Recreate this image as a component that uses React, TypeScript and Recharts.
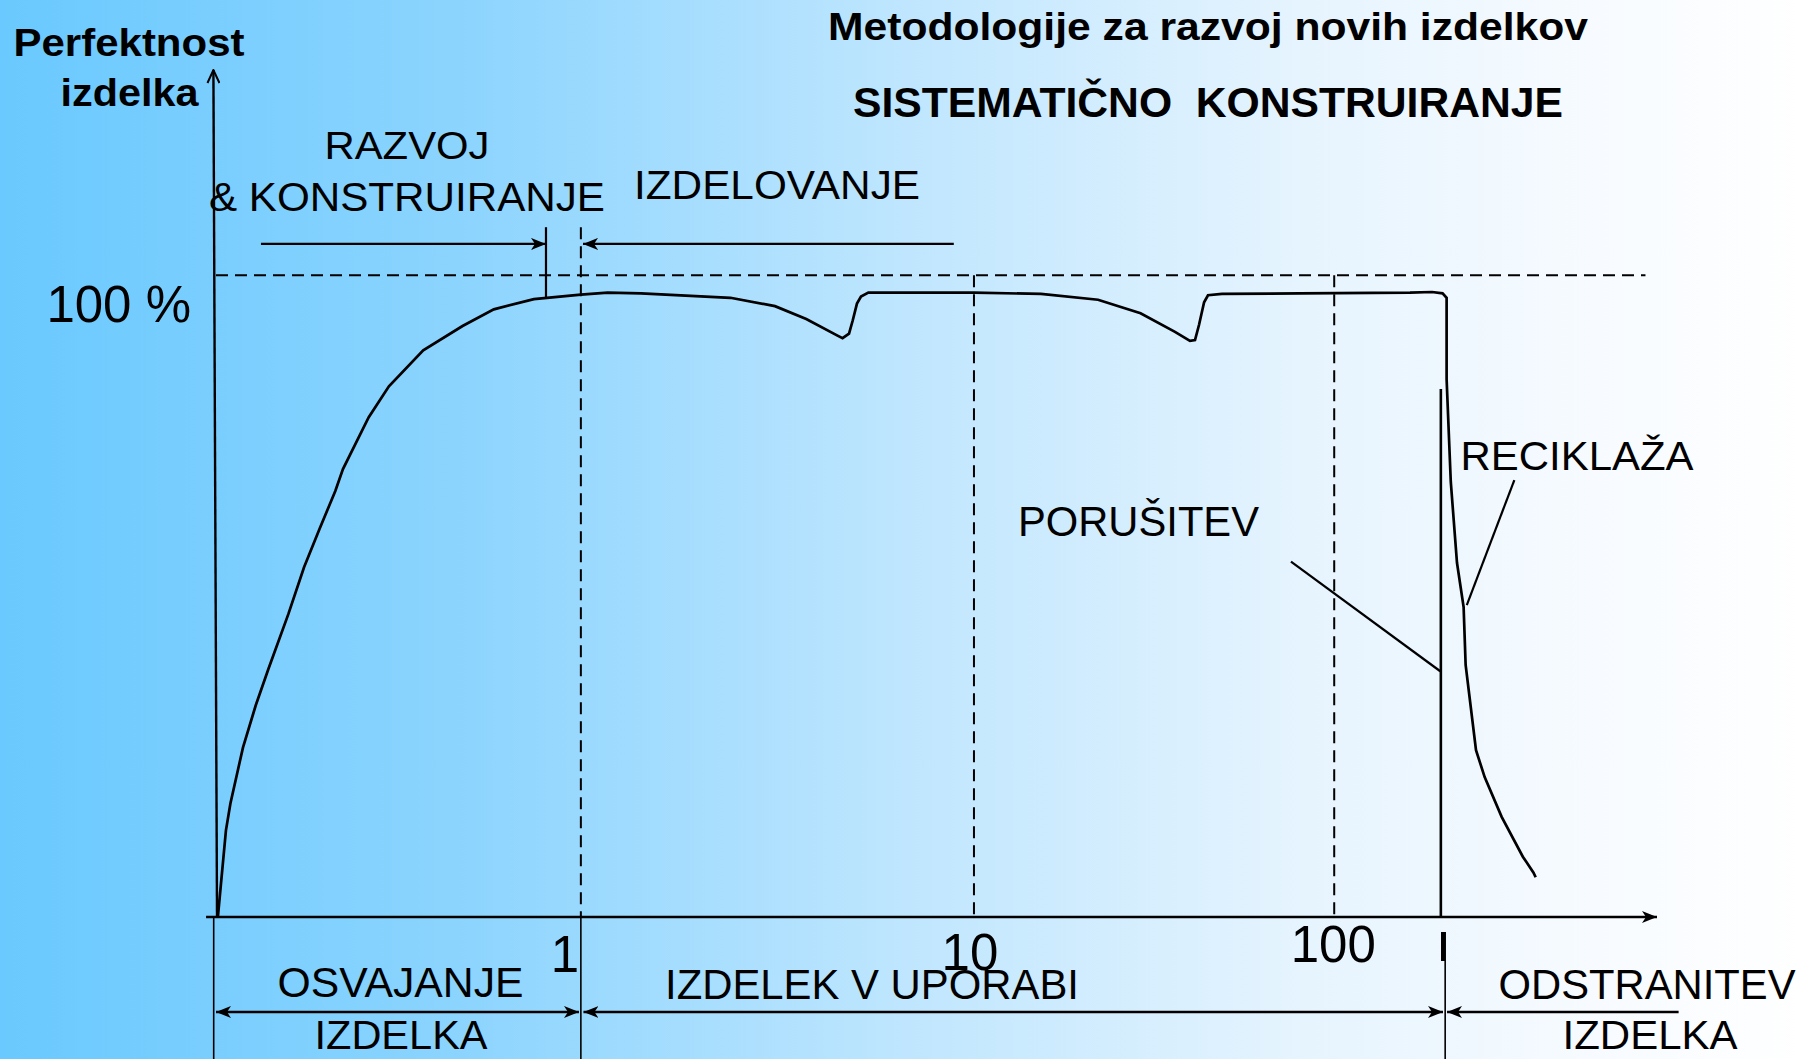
import React from "react";
import { LineChart, Line, XAxis, YAxis, ReferenceLine } from "recharts";

const FONT = '"Liberation Sans", Arial, Helvetica, sans-serif';

// product life, horizontal position in arbitrary "time" units (0..100 along the axis)
const lifeTime = [
  0.13, 0.69, 1.0, 1.87, 2.76, 3.63, 5.02, 6.11, 7.19, 8.28, 8.81, 9.98, 10.6, 12.0,
  14.38, 17.11, 19.28, 22.06, 25.32, 27.18, 29.49, 35.7, 38.79, 40.96, 43.13, 43.48,
  43.93, 44.19, 44.48, 44.76, 45.27, 52.6, 57.25, 61.21, 64.16, 66.55, 67.59, 67.94,
  68.22, 68.57, 68.84, 69.81, 75.23, 82.86, 84.39, 85.12, 85.4, 85.4, 85.69, 86.12,
  86.58, 86.72, 87.44, 88.04, 89.22, 90.69, 91.43, 91.58,
];
// perfektnost izdelka in %
const perfection = [
  0, 13.5, 17.7, 26.4, 33.0, 38.6, 47.2, 54.5, 60.5, 66.4, 69.8, 75.1, 77.9, 82.7,
  88.3, 92.1, 94.7, 96.3, 97.0, 97.3, 97.2, 96.5, 95.2, 93.2, 90.6, 90.2,
  90.9, 93.0, 95.6, 96.7, 97.3, 97.3, 97.1, 96.2, 94.1, 91.2, 89.8, 89.9,
  92.3, 95.8, 96.9, 97.1, 97.2, 97.3, 97.4, 97.2, 96.5, 83.8, 67.8, 55.2,
  48.3, 39.3, 26.0, 21.8, 15.6, 9.4, 6.9, 6.2,
];

const tickValues = [25.32, 52.6, 77.6];
const tickLabels = ["1", "10", "100"];
const levelTicks = [100];

const Y_MAX = 132;
const BELOW = -22.13;
const FAILURE = 85.0;
const BOUNDARY = 85.3;
const HEAD_ROW = 104.9;
const FOOT_ROW = -14.8;

// guide segments in chart units
const hundredLine = [{ x: 0, y: 100 }, { x: 99.2, y: 100 }];
const dashedPhases = [
  [{ x: 25.32, y: 107.5 }, { x: 25.32, y: 0 }],
  [{ x: 52.6, y: 100 }, { x: 52.6, y: 0 }],
  [{ x: 77.6, y: 100 }, { x: 77.6, y: 0 }],
];
const xAxisLine = [{ x: -0.69, y: 0 }, { x: 100, y: 0 }];
const yAxisLine = [{ x: 0.07, y: 0 }, { x: -0.18, y: Y_MAX }];
const belowLines = [
  [{ x: -0.16, y: 0 }, { x: -0.16, y: BELOW }],
  [{ x: 25.32, y: 0 }, { x: 25.32, y: BELOW }],
  [{ x: BOUNDARY, y: -2.34 }, { x: BOUNDARY, y: BELOW }],
];
const failureLine = [{ x: FAILURE, y: 82.3 }, { x: FAILURE, y: 0 }];
const failureTick = [{ x: 85.15, y: -2.34 }, { x: 85.15, y: -6.86 }];
const designEnd = [{ x: 22.9, y: 107.5 }, { x: 22.9, y: 96.5 }];
const designArrow = [{ x: 3.12, y: HEAD_ROW }, { x: 22.9, y: HEAD_ROW }];
const makingArrow = [{ x: 51.2, y: HEAD_ROW }, { x: 25.47, y: HEAD_ROW }];
const footBoth = [
  [{ x: 0, y: FOOT_ROW }, { x: 25.19, y: FOOT_ROW }],
  [{ x: 25.5, y: FOOT_ROW }, { x: 85.15, y: FOOT_ROW }],
];
const disposalArrow = [{ x: 101.5, y: FOOT_ROW }, { x: 85.43, y: FOOT_ROW }];
const failurePointer = [{ x: 74.6, y: 55.4 }, { x: 84.96, y: 38.3 }];
const recyclePointer = [{ x: 90.1, y: 68.1 }, { x: 86.8, y: 48.6 }];

const data = lifeTime.map((t, i) => ({ t, p: perfection[i] }));

const seg = (
  points: { x: number; y: number }[],
  width: number,
  opts: { dash?: string; start?: string; end?: string; key?: string } = {}
) => (
  <ReferenceLine
    key={opts.key}
    segment={points}
    ifOverflow="visible"
    shape={(p: any) => (
      <line
        x1={p.x1}
        y1={p.y1}
        x2={p.x2}
        y2={p.y2}
        stroke="#000"
        strokeWidth={width}
        strokeDasharray={opts.dash}
        markerStart={opts.start ? `url(#${opts.start})` : undefined}
        markerEnd={opts.end ? `url(#${opts.end})` : undefined}
      />
    )}
  />
);

const PhaseTick = (props: any) => {
  const { x, y, payload } = props;
  const i = tickValues.indexOf(payload.value);
  const nudge = [
    [-16, 55],
    [-4, 53],
    [-1, 45],
  ][i] || [0, 50];
  return (
    <text x={x + nudge[0]} y={y + nudge[1]} textAnchor="middle" fontSize={51} fontFamily={FONT} fill="#000">
      {tickLabels[i]}
    </text>
  );
};

const LevelTick = (props: any) => {
  const { x, y, payload } = props;
  return (
    <text x={x - 25} y={y + 47} textAnchor="end" fontSize={51} fontFamily={FONT} fill="#000" style={{ whiteSpace: "pre" }}>
      {`${payload.value} %`}
    </text>
  );
};

const T = ({ x, y, size, len, bold, children }: any) => (
  <text
    x={x}
    y={y}
    textAnchor="middle"
    fontSize={size}
    fontWeight={bold ? 700 : 400}
    fontFamily={FONT}
    fill="#000"
    textLength={len}
    lengthAdjust="spacingAndGlyphs"
    style={{ whiteSpace: "pre" }}
  >
    {children}
  </text>
);

export default function App() {
  return (
    <div
      style={{
        position: "absolute",
        left: 0,
        top: 0,
        width: 1814,
        height: 1059,
        overflow: "hidden",
        background:
          "linear-gradient(to right, #6ac9fe 0%, #8bd4fe 25%, #bfe6fe 50%, #e6f4fe 72%, #f7fbff 88%, #ffffff 100%)",
      }}
    >
      <LineChart
        width={1814}
        height={1059}
        data={data}
        margin={{ top: 70, right: 157, bottom: 0, left: 0 }}
        style={{ position: "absolute", left: 0, top: 0 }}
      >
        <XAxis
          type="number"
          dataKey="t"
          domain={[0, 100]}
          ticks={tickValues}
          interval={0}
          height={142}
          axisLine={false}
          tickLine={false}
          tickSize={0}
          tickMargin={0}
          tick={(p: any) => <PhaseTick {...p} />}
        />
        <YAxis
          type="number"
          domain={[0, Y_MAX]}
          ticks={levelTicks}
          width={216}
          axisLine={false}
          tickLine={false}
          tickSize={0}
          tickMargin={0}
          tick={(p: any) => <LevelTick {...p} />}
        />
        {seg(hundredLine, 2, { dash: "12 7" })}
        {dashedPhases.map((s, i) => seg(s, 2, { dash: "12 7", key: `d${i}` }))}
        {belowLines.map((s, i) => seg(s, 1.6, { key: `b${i}` }))}
        {seg(failureTick, 4)}
        {seg(xAxisLine, 2.6, { end: "head" })}
        {seg(yAxisLine, 2.4, { end: "open" })}
        {seg(failureLine, 2.6)}
        {seg(designEnd, 2.2)}
        {seg(designArrow, 2.4, { end: "head" })}
        {seg(makingArrow, 2.4, { end: "head" })}
        {footBoth.map((s, i) => seg(s, 2.6, { start: "head", end: "head", key: `f${i}` }))}
        {seg(disposalArrow, 2.6, { end: "head" })}
        {seg(failurePointer, 2.2)}
        {seg(recyclePointer, 2.2)}
        <Line
          type="linear"
          dataKey="p"
          stroke="#000"
          strokeWidth={2.7}
          dot={false}
          activeDot={false}
          isAnimationActive={false}
        />
      </LineChart>

      <svg
        width={1814}
        height={1059}
        style={{ position: "absolute", left: 0, top: 0, pointerEvents: "none" }}
      >
        <defs>
          <marker
            id="head"
            viewBox="0 0 15 12"
            markerWidth={15}
            markerHeight={12}
            refX={15}
            refY={6}
            orient="auto-start-reverse"
            markerUnits="userSpaceOnUse"
          >
            <path d="M0,0 L15,6 L0,12 L4,6 Z" fill="#000" />
          </marker>
          <marker
            id="open"
            viewBox="0 0 15 14"
            markerWidth={15}
            markerHeight={14}
            refX={14}
            refY={7}
            orient="auto"
            markerUnits="userSpaceOnUse"
          >
            <path d="M1,1 L14,7 L1,13" fill="none" stroke="#000" strokeWidth={2} />
          </marker>
        </defs>

        <T x={129} y={56} size={39} len={231} bold>Perfektnost</T>
        <T x={129.5} y={106} size={39} len={138} bold>izdelka</T>
        <T x={1208} y={40} size={39} len={760} bold>Metodologije za razvoj novih izdelkov</T>
        <T x={1208} y={117} size={43} len={710} bold>SISTEMATIČNO  KONSTRUIRANJE</T>

        <T x={407} y={159} size={39} len={165}>RAZVOJ</T>
        <T x={407} y={211} size={40} len={396}>&amp; KONSTRUIRANJE</T>
        <T x={777} y={199} size={40} len={286}>IZDELOVANJE</T>

        <T x={1138.5} y={536} size={42} len={241}>PORUŠITEV</T>
        <T x={1577} y={470} size={40.5} len={233}>RECIKLAŽA</T>

        <T x={400.5} y={997} size={42} len={246}>OSVAJANJE</T>
        <T x={401} y={1049} size={41} len={173}>IZDELKA</T>
        <T x={872} y={999} size={42} len={414}>IZDELEK V UPORABI</T>
        <T x={1647} y={999} size={42} len={297}>ODSTRANITEV</T>
        <T x={1650} y={1049} size={41} len={175}>IZDELKA</T>
      </svg>
    </div>
  );
}
